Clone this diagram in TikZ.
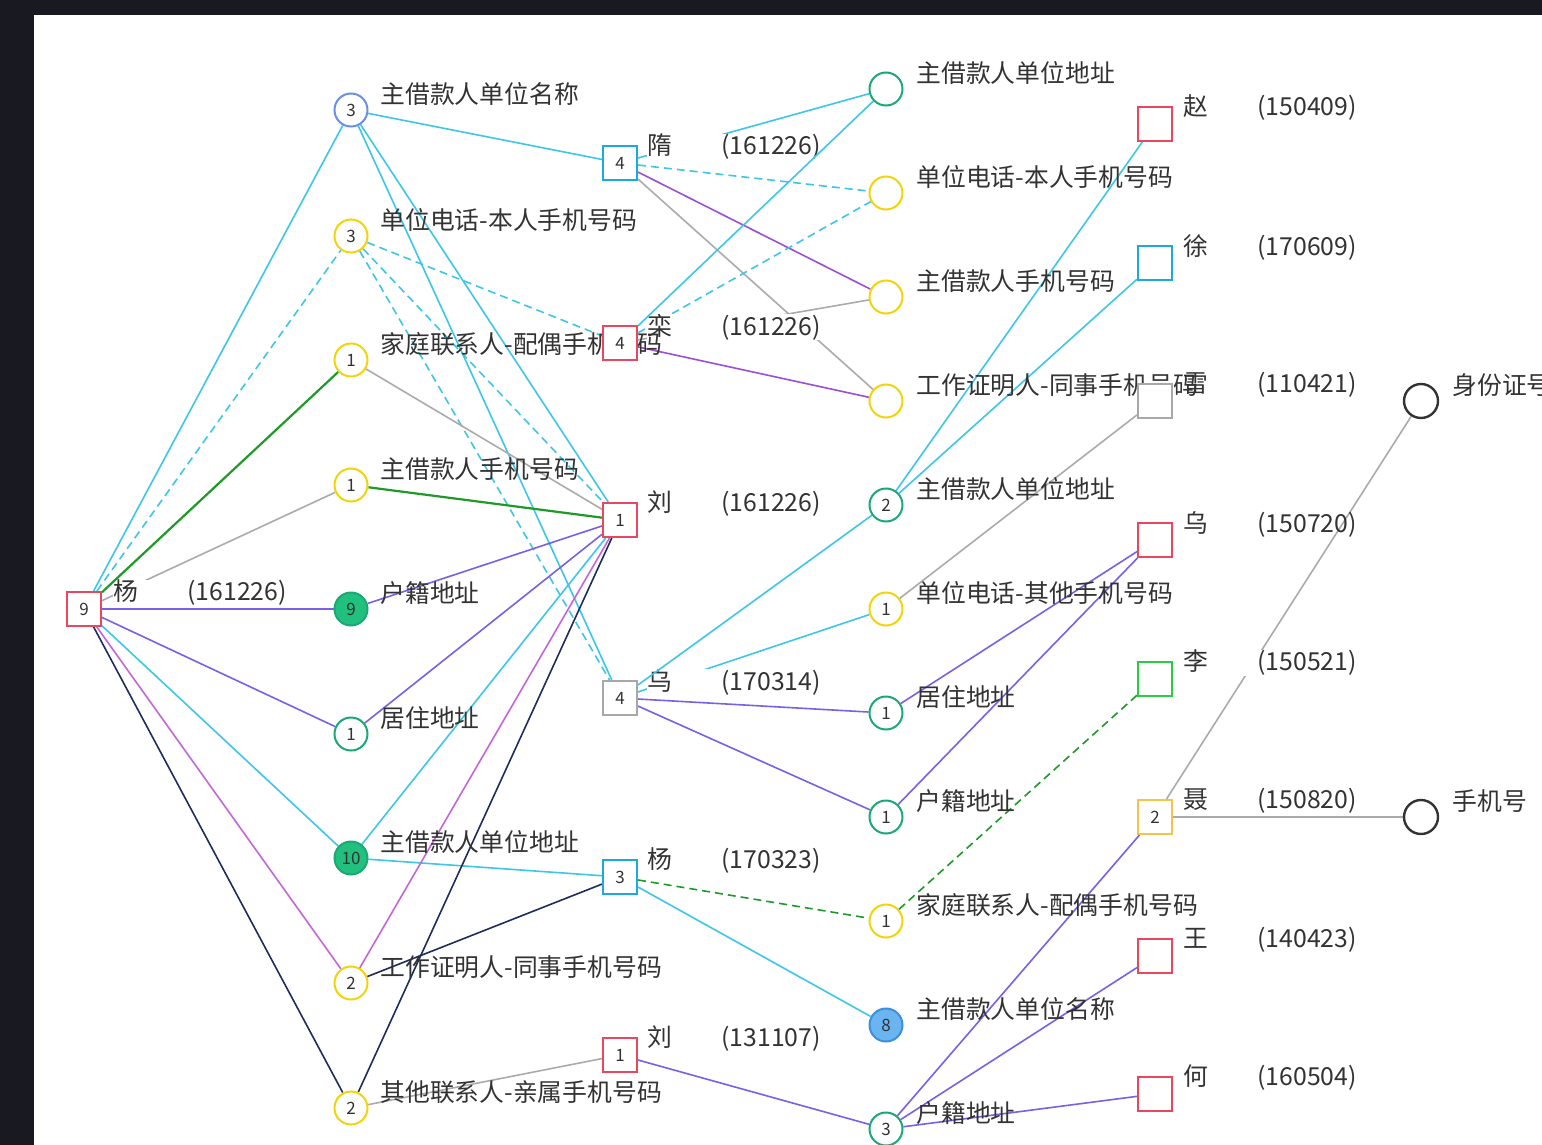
\documentclass[tikz,border=0pt]{standalone}
\usepackage{fontspec}
\setmainfont{Noto Sans CJK SC}
\definecolor{bgdark}{HTML}{191922}
\definecolor{ink}{HTML}{333333}
\definecolor{redsq}{HTML}{E8475F}
\definecolor{bluesq}{HTML}{1EA8E0}
\definecolor{greysq}{HTML}{A8A8A8}
\definecolor{yelc}{HTML}{F2D40A}
\definecolor{grnc}{HTML}{1AA874}
\definecolor{grnfill}{HTML}{22C07E}
\definecolor{bluec}{HTML}{6C8EE6}
\definecolor{bluefill}{HTML}{6AB4F0}
\definecolor{bluering}{HTML}{3D8FDB}
\definecolor{limesq}{HTML}{2ACC44}
\definecolor{goldsq}{HTML}{F2C44A}
\definecolor{cyn}{HTML}{3EC6E6}
\definecolor{vio}{HTML}{7A60E6}
\definecolor{plum}{HTML}{9B4FD6}
\definecolor{orc}{HTML}{C466D8}
\definecolor{nav}{HTML}{1F2D5C}
\definecolor{dgr}{HTML}{1E9A28}
\definecolor{gry}{HTML}{ABABAB}
\pgfdeclarelayer{back}
\pgfdeclarelayer{tags}
\pgfsetlayers{back,tags,main}

\begin{document}
\begin{tikzpicture}[x=0.5pt,y=-0.5pt,
    ci/.style={circle,draw,line width=1pt,fill=white,minimum size=16.5pt,inner sep=0pt,font=\fontsize{8.5}{9}\selectfont,text=ink},
    sq/.style={rectangle,draw,line width=1pt,fill=white,minimum size=17pt,inner sep=0pt,font=\fontsize{8.5}{9}\selectfont,text=ink},
    txt/.style={anchor=west,inner sep=0pt,font=\fontsize{12.4}{14}\selectfont,text=ink},
    tagw/.style={txt,fill=white},
    lnk/.style={line width=0.8pt},
    dsh/.style={lnk,dash pattern=on 4pt off 2.5pt}]
    \useasboundingbox (0,0) rectangle (1542,1145);

    % labels
    \node[txt] (c1t) at (380,94) {主借款人单位名称};
    \node[txt] (c2t) at (380,220) {单位电话-本人手机号码};
    \node[txt] (c3t) at (380,344) {家庭联系人-配偶手机号码};
    \node[txt] (c4t) at (380,469) {主借款人手机号码};
    \node[txt] (c5t) at (380,593) {户籍地址};
    \node[txt] (c6t) at (380,718) {居住地址};
    \node[txt] (c7t) at (380,842) {主借款人单位地址};
    \node[txt] (c8t) at (380,967) {工作证明人-同事手机号码};
    \node[txt] (c9t) at (380,1092) {其他联系人-亲属手机号码};
    \node[txt] (d1t) at (916,73) {主借款人单位地址};
    \node[txt] (d2t) at (916,177) {单位电话-本人手机号码};
    \node[txt] (d3t) at (916,281) {主借款人手机号码};
    \node[txt] (d4t) at (916,385) {工作证明人-同事手机号码};
    \node[txt] (d5t) at (916,489) {主借款人单位地址};
    \node[txt] (d6t) at (916,593) {单位电话-其他手机号码};
    \node[txt] (d7t) at (916,697) {居住地址};
    \node[txt] (d8t) at (916,801) {户籍地址};
    \node[txt] (d9t) at (916,905) {家庭联系人-配偶手机号码};
    \node[txt] (d10t) at (916,1009) {主借款人单位名称};
    \node[txt] (d11t) at (916,1113) {户籍地址};
    \node[txt] (f1t) at (1452,385) {身份证号};
    \node[txt] (f2t) at (1452,801) {手机号};
    \node[txt] (s3t) at (647,504) {刘\hspace{24.6pt}(161226)};
    \node[txt] (s5t) at (647,861) {杨\hspace{24.6pt}(170323)};
    \node[txt] (s6t) at (647,1039) {刘\hspace{24.6pt}(131107)};
    \node[txt] (e1t) at (1183,108) {赵\hspace{24.6pt}(150409)};
    \node[txt] (e2t) at (1183,247) {徐\hspace{24.6pt}(170609)};
    \node[txt] (e3t) at (1183,385) {雷\hspace{24.6pt}(110421)};
    \node[txt] (e4t) at (1183,524) {乌\hspace{24.6pt}(150720)};
    \node[txt] (e6t) at (1183,801) {聂\hspace{24.6pt}(150820)};
    \node[txt] (e7t) at (1183,940) {王\hspace{24.6pt}(140423)};
    \node[txt] (e8t) at (1183,1078) {何\hspace{24.6pt}(160504)};

    % nodes
    \node[sq,draw=redsq] (y0) at (84,609) {9};
    \node[ci,draw=bluec] (c1) at (351,110) {3};
    \node[ci,draw=yelc] (c2) at (351,236) {3};
    \node[ci,draw=yelc] (c3) at (351,360) {1};
    \node[ci,draw=yelc] (c4) at (351,485) {1};
    \node[ci,draw=grnc,fill=grnfill] (c5) at (351,609) {9};
    \node[ci,draw=grnc] (c6) at (351,734) {1};
    \node[ci,draw=grnc,fill=grnfill] (c7) at (351,858) {10};
    \node[ci,draw=yelc] (c8) at (351,983) {2};
    \node[ci,draw=yelc] (c9) at (351,1108) {2};
    \node[sq,draw=bluesq] (s1) at (620,163) {4};
    \node[sq,draw=redsq] (s2) at (620,343) {4};
    \node[sq,draw=redsq] (s3) at (620,520) {1};
    \node[sq,draw=greysq] (s4) at (620,698) {4};
    \node[sq,draw=bluesq] (s5) at (620,877) {3};
    \node[sq,draw=redsq] (s6) at (620,1055) {1};
    \node[ci,draw=grnc] (d1) at (886,89) {};
    \node[ci,draw=yelc] (d2) at (886,193) {};
    \node[ci,draw=yelc] (d3) at (886,297) {};
    \node[ci,draw=yelc] (d4) at (886,401) {};
    \node[ci,draw=grnc] (d5) at (886,505) {2};
    \node[ci,draw=yelc] (d6) at (886,609) {1};
    \node[ci,draw=grnc] (d7) at (886,713) {1};
    \node[ci,draw=grnc] (d8) at (886,817) {1};
    \node[ci,draw=yelc] (d9) at (886,921) {1};
    \node[ci,draw=bluering,fill=bluefill] (d10) at (886,1025) {8};
    \node[ci,draw=grnc] (d11) at (886,1129) {3};
    \node[sq,draw=redsq] (e1) at (1155,124) {};
    \node[sq,draw=bluesq] (e2) at (1155,263) {};
    \node[sq,draw=greysq] (e3) at (1155,401) {};
    \node[sq,draw=redsq] (e4) at (1155,540) {};
    \node[sq,draw=limesq] (e5) at (1155,679) {};
    \node[sq,draw=goldsq] (e6) at (1155,817) {2};
    \node[sq,draw=redsq] (e7) at (1155,956) {};
    \node[sq,draw=redsq] (e8) at (1155,1094) {};
    \node[ci,draw=ink,line width=1.2pt,minimum size=17pt] (f1) at (1421,401) {};
    \node[ci,draw=ink,line width=1.2pt,minimum size=17pt] (f2) at (1421,817) {};

    % labels that cover links
    \begin{pgfonlayer}{tags}
    \node[tagw] (y0t) at (113,593) {杨\hspace{24.6pt}(161226)};
    \node[tagw] (s1t) at (647,147) {隋\hspace{24.6pt}(161226)};
    \node[tagw] (s2t) at (647,327) {栾\hspace{24.6pt}(161226)};
    \node[tagw] (s4t) at (647,682) {乌\hspace{24.6pt}(170314)};
    \node[tagw] (e5t) at (1183,663) {李\hspace{24.6pt}(150521)};
    \draw[lnk,cyn] (y0) -- (c1);
    \draw[dsh,cyn] (y0) -- (c2);
    \draw[lnk,dgr,line width=1.1pt] (y0) -- (c3);
    \draw[lnk,cyn] (s2) -- (d1);
    \draw[lnk,cyn] (s4) -- (d5);
    \end{pgfonlayer}

    \begin{pgfonlayer}{back}
    \fill[bgdark] (0,0) rectangle (1542,1145);
    \fill[white] (34,15) rectangle (1542,1145);
    % first column
    \draw[lnk,gry] (y0) -- (c4);
    \draw[lnk,vio] (y0) -- (c5);
    \draw[lnk,vio] (y0) -- (c6);
    \draw[lnk,cyn] (y0) -- (c7);
    \draw[lnk,orc] (y0) -- (c8);
    \draw[lnk,nav] (y0) -- (c9);
    % second column
    \draw[lnk,cyn] (c1) -- (s1);
    \draw[lnk,cyn] (c1) -- (s3);
    \draw[lnk,cyn] (c1) -- (s4);
    \draw[dsh,cyn] (c2) -- (s2);
    \draw[dsh,cyn] (c2) -- (s3);
    \draw[dsh,cyn] (c2) -- (s4);
    \draw[lnk,gry] (c3) -- (s3);
    \draw[lnk,dgr,line width=1.1pt] (c4) -- (s3);
    \draw[lnk,vio] (c5) -- (s3);
    \draw[lnk,vio] (c6) -- (s3);
    \draw[lnk,cyn] (c7) -- (s3);
    \draw[lnk,cyn] (c7) -- (s5);
    \draw[lnk,orc] (c8) -- (s3);
    \draw[lnk,nav] (c8) -- (s5);
    \draw[lnk,nav] (c9) -- (s3);
    \draw[lnk,gry] (c9) -- (s6);
    % third column
    \draw[lnk,cyn] (s1) -- (d1);
    \draw[dsh,cyn] (s1) -- (d2);
    \draw[lnk,plum] (s1) -- (d3);
    \draw[lnk,gry] (s1) -- (d4);
    \draw[dsh,cyn] (s2) -- (d2);
    \draw[lnk,gry] (s2) -- (d3);
    \draw[lnk,plum] (s2) -- (d4);
    \draw[lnk,cyn] (s4) -- (d6);
    \draw[lnk,vio] (s4) -- (d7);
    \draw[lnk,vio] (s4) -- (d8);
    \draw[dsh,dgr] (s5) -- (d9);
    \draw[lnk,cyn] (s5) -- (d10);
    \draw[lnk,vio] (s6) -- (d11);
    % fourth column
    \draw[lnk,cyn] (d5) -- (e1);
    \draw[lnk,cyn] (d5) -- (e2);
    \draw[lnk,gry] (d6) -- (e3);
    \draw[lnk,vio] (d7) -- (e4);
    \draw[lnk,vio] (d8) -- (e4);
    \draw[dsh,dgr] (d9) -- (e5);
    \draw[lnk,vio] (d11) -- (e6);
    \draw[lnk,vio] (d11) -- (e7);
    \draw[lnk,vio] (d11) -- (e8);
    \draw[lnk,gry] (e6) -- (f1);
    \draw[lnk,gry] (e6) -- (f2);
    \end{pgfonlayer}
\end{tikzpicture}
\end{document}
